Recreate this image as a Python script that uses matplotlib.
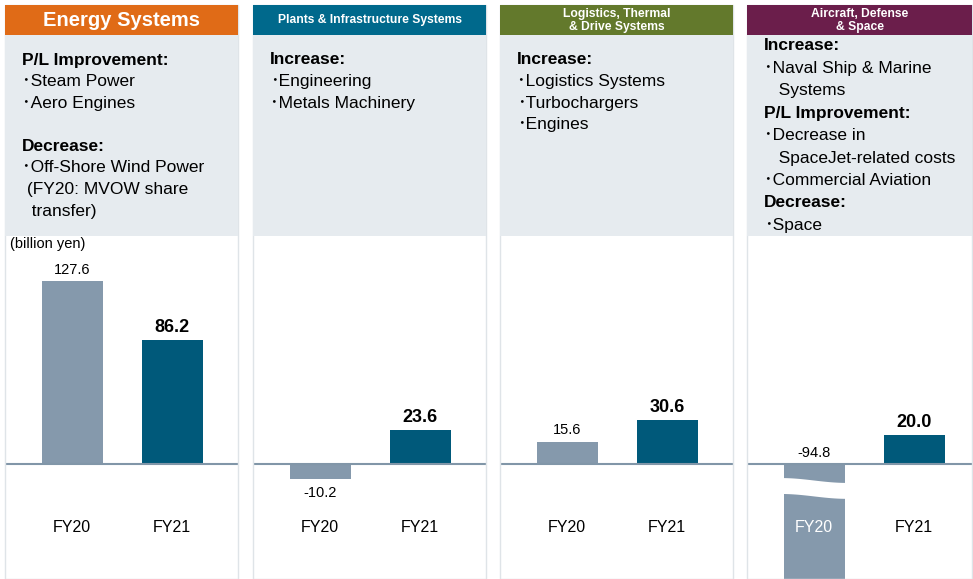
import numpy as np
import matplotlib
matplotlib.use('Agg')
import matplotlib.pyplot as plt
from matplotlib.patches import Rectangle, Polygon

plt.rcParams['font.family'] = ['Liberation Sans', 'Noto Sans CJK JP']

# data
segments = ['Energy Systems', 'Plants & Infrastructure Systems',
            'Logistics, Thermal\n& Drive Systems', 'Aircraft, Defense\n& Space']
header_colors = ['#e06b17', '#00698c', '#63792c', '#6b1e4b']
years = ['FY20', 'FY21']
fy20 = [127.6, -10.2, 15.6, -94.8]
fy21 = [86.2, 23.6, 30.6, 20.0]
notes = [
    ['P/L Improvement:', '･Steam Power', '･Aero Engines', '',
     'Decrease:', '･Off-Shore Wind Power', ' (FY20: MVOW share', '  transfer)'],
    ['Increase:', '･Engineering', '･Metals Machinery'],
    ['Increase:', '･Logistics Systems', '･Turbochargers', '･Engines'],
    ['Increase:', '･Naval Ship & Marine', '   Systems', 'P/L Improvement:',
     '･Decrease in', '   SpaceJet-related costs', '･Commercial Aviation',
     'Decrease:', '･Space'],
]
unit = '(billion yen)'

C20 = '#8599ac'
C21 = '#00597a'
BOX = '#e6ebef'

# layout (pixels)
W, H = 973, 579
panel_left = [5, 253, 500, 747]
panel_w = [233, 233, 233, 225]
head_top, head_bot, box_bot, base_y = 5, 35, 236, 464
px_per_unit = 1.434

def fx(px):
    return px / W

def fy(py):
    return 1 - py / H

fig = plt.figure(figsize=(W / 100, H / 100), dpi=100)

for i in range(4):
    l, w = panel_left[i], panel_w[i]
    # panel border + header + note box
    fig.patches.append(Rectangle((fx(l), fy(H)), w / W, (H - head_top) / H,
                                 transform=fig.transFigure, fill=False,
                                 edgecolor='#dfe4e8', lw=1))
    fig.patches.append(Rectangle((fx(l), fy(head_bot)), w / W, (head_bot - head_top) / H,
                                 transform=fig.transFigure, color=header_colors[i], lw=0))
    fig.patches.append(Rectangle((fx(l), fy(box_bot)), w / W, (box_bot - head_bot) / H,
                                 transform=fig.transFigure, color=BOX, lw=0))
    if i == 0:
        fig.text(fx(l + w / 2), fy(21), segments[i], color='white', ha='center',
                 va='center', fontsize=14.5, fontweight='bold')
    else:
        fig.text(fx(l + w / 2), fy(20.5), segments[i], color='white', ha='center',
                 va='center', fontsize=8.7, fontweight='bold', linespacing=1.05)

    # notes
    if i == 3:
        y0, step = 46, 22.4
    else:
        y0, step = 60, 21.6
    for k, line in enumerate(notes[i]):
        if not line:
            continue
        fig.text(fx(l + 17), fy(y0 + k * step), line, ha='left', va='center',
                 fontsize=12.5, fontweight='bold' if line.endswith(':') else 'normal')

    # bar chart
    ax = fig.add_axes([fx(l), 0, w / W, (H - box_bot) / H])
    ymin = -(H - base_y) / px_per_unit
    ymax = (base_y - box_bot) / px_per_unit
    ax.set_ylim(ymin, ymax)
    ax.set_xlim(-0.67, -0.67 + w / 100)
    ax.axis('off')
    vals = [fy20[i], fy21[i]]
    ax.bar([0, 1], vals, width=0.61, color=[C20, C21], zorder=2)
    ax.axhline(0, color='#8196a8', lw=1.5, zorder=3)

    for j, v in enumerate(vals):
        kw = dict(fontsize=13, fontweight='bold') if j == 1 else dict(fontsize=10.5)
        if v >= 0:
            ax.annotate(f'{v:.1f}', (j, v), xytext=(0, 3), textcoords='offset points',
                        ha='center', va='bottom', **kw)
        elif v > ymin:
            ax.annotate(f'{v:.1f}', (j, v), xytext=(0, -5), textcoords='offset points',
                        ha='center', va='top', **kw)
        else:
            ax.annotate(f'{v:.1f}', (j, 0), xytext=(0, 3), textcoords='offset points',
                        ha='center', va='bottom', **kw)
            # wavy break in the long bar
            t = np.linspace(0, 1, 40)
            s = (1 - np.cos(np.pi * t)) / 2
            xs = j - 0.33 + 0.66 * t
            top = -9.8 - 3.4 * s
            bot = -20.9 - 3.4 * s
            pts = np.concatenate([np.column_stack([xs, top]),
                                  np.column_stack([xs[::-1], bot[::-1]])])
            ax.add_patch(Polygon(pts, closed=True, color='white', lw=0, zorder=4))

        ylab = (base_y - 527) / px_per_unit
        inside = v < ylab
        ax.text(j, ylab, years[j], ha='center', va='center', fontsize=11.5,
                color='white' if inside else 'black', zorder=5)

    if i == 0:
        fig.text(fx(l + 5), fy(244), unit, ha='left', va='center', fontsize=10.5)

fig.savefig('out.png', dpi=100)
